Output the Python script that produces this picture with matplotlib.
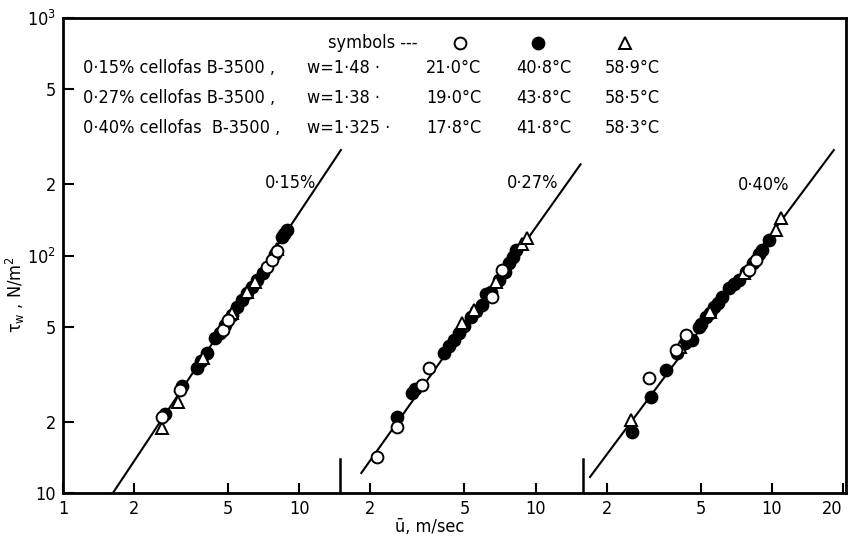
import matplotlib
matplotlib.use('Agg')
import matplotlib.pyplot as plt

W, H = 850, 542

plt.rcParams['font.family'] = ['DejaVu Sans']
plt.rcParams['font.stretch'] = 'condensed'
plt.rcParams['mathtext.default'] = 'regular'

# the three runs share one log axis; each run is shifted one decade right
offsets = [1, 10, 100]
breaks = [14.9, 159]       # tall marks separating the runs (shared axis units)
xticks_at = [1, 2, 5, 10, 20, 50, 100, 200, 500, 1000, 2000]
xtick_labels = ['1', '2', '5', '10', '2', '5', '10', '2', '5', '10', '20']
xtall_at = [10, 100, 1000]
yticks_at = [10, 20, 50, 100, 200, 500, 1000]
ytick_labels = ['10', '2', '5', r'$10^2$', '2', '5', r'$10^3$']

conc = ['0·15%', '0·27%', '0·40%']
w_exp = ['w=1·48 ·', 'w=1·38 ·', 'w=1·325 ·']
names = ['0·15% cellofas B-3500 ,', '0·27% cellofas B-3500 ,', '0·40% cellofas  B-3500 ,']
temps = [['21·0°C', '40·8°C', '58·9°C'],
         ['19·0°C', '43·8°C', '58·5°C'],
         ['17·8°C', '41·8°C', '58·3°C']]

# straight fits, end points (u m/s, tau N/m^2)
line_u = [[1.626, 15.0], [1.83, 15.5], [1.70, 18.3]]
line_tau = [[10.0, 278], [12.14, 242], [11.68, 278]]

# open circles (lowest temperature)
open_u = [[2.62, 3.12, 4.74, 4.98, 7.28, 7.64, 8.02],
          [2.14, 2.60, 3.32, 3.55, 6.56, 7.23],
          [3.02, 3.93, 4.33, 7.99, 8.55]]
open_t = [[20.9, 27.1, 48.6, 53.5, 89.5, 95.7, 104],
          [14.2, 19.0, 28.5, 33.6, 66.9, 86.9],
          [30.5, 40.0, 46.3, 86.9, 95.7]]
# filled circles (middle temperature)
fill_u = [[2.70, 3.20, 3.68, 3.85, 4.06, 4.39, 4.6, 4.85, 5.2, 5.43, 5.70, 5.99, 6.3, 6.6,
           7.0, 7.9, 8.42, 8.6, 8.84],
          [2.60, 3.01, 3.1, 4.11, 4.3, 4.5, 4.76, 5.0, 5.35, 5.6, 5.95, 6.18, 6.5, 7.02,
           7.4, 7.73, 8.0, 8.28],
          [2.56, 3.08, 3.56, 3.96, 4.3, 4.59, 4.91, 5.0, 5.26, 5.45, 5.69, 5.9, 6.14, 6.58,
           6.9, 7.25, 7.8, 8.3, 8.8, 9.06, 9.70]]
fill_t = [[21.6, 28.2, 33.6, 35.8, 38.9, 44.9, 47, 51, 56, 60.7, 65.0, 69.5, 74, 78.8,
           84, 101, 119.7, 123, 128],
          [20.9, 26.4, 27.5, 38.9, 41.5, 44, 47.2, 50.5, 55.1, 58.5, 61.9, 69, 70.5, 78.8,
           85, 93.0, 99, 105.5],
          [18.1, 25.4, 33.0, 38.9, 43, 44.1, 50.0, 51.5, 55.1, 57.5, 60.7, 63, 66.9, 73.0,
           76, 78.8, 85, 93, 101, 105.5, 116.3]]
# open triangles (highest temperature)
tri_u = [[2.62, 3.06, 3.9, 5.2, 6.5, 8.02, 6.0],
         [4.9, 5.5, 6.8, 8.77, 9.22],
         [2.54, 4.1, 5.5, 7.6, 10.38, 10.9]]
tri_t = [[18.8, 24.2, 37, 57, 77, 106, 70],
         [52, 59, 77, 112, 118.6],
         [20.3, 41, 58, 84, 128, 143.9]]


def fx(px):
    return px / W


def fy(py):
    return 1 - py / H


fig = plt.figure(figsize=(W / 100, H / 100), dpi=100)
ax = fig.add_axes([fx(63), fy(493), 783 / W, 475 / H])
ax.set_xscale('log')
ax.set_yscale('log')

mk = dict(linestyle='none', markersize=8.5, markeredgewidth=1.4, markeredgecolor='black')
for i, off in enumerate(offsets):
    ax.plot([u * off for u in line_u[i]], line_tau[i], color='black', lw=1.5)
    ax.plot([u * off for u in fill_u[i]], fill_t[i], marker='o', markerfacecolor='black', **mk)
    ax.plot([u * off for u in tri_u[i]], tri_t[i], marker='^', markerfacecolor='white', **mk)
    ax.plot([u * off for u in open_u[i]], open_t[i], marker='o', markerfacecolor='white', **mk)

for b in breaks:
    ax.axvline(b, ymin=0, ymax=34 / 475, color='black', lw=1.8)

ax.set_xlim(1, 2060)
ax.set_ylim(10, 1000)
ax.set_xticks(xticks_at, xtick_labels, fontsize=13)
ax.set_xticks(xtall_at, [''] * len(xtall_at), minor=True)
ax.set_yticks(yticks_at, ytick_labels, fontsize=13)
ax.set_yticks([], minor=True)
ax.get_xticklabels()[-1].set_horizontalalignment('right')
ax.tick_params(axis='x', which='major', direction='in', length=7, width=1.5, pad=5)
ax.tick_params(axis='x', which='minor', direction='in', length=14, width=1.5)
ax.tick_params(axis='y', which='major', direction='in', length=8, width=1.5, pad=5)
for s in ax.spines.values():
    s.set_linewidth(2)

ax.set_xlabel('ū, m/sec', fontsize=13, va='center')
ax.xaxis.set_label_coords((430 - 63) / 783, -(527 - 493) / 475)
ax.set_ylabel(r'$\tau_w$ , N/m$^2$', fontsize=13, va='center')
ax.yaxis.set_label_coords(-(63 - 15) / 783, (493 - 295) / 475)

# legend block
fig.text(fx(328), fy(43), 'symbols ---', fontsize=13, va='center', ha='left')
leg_x = [460, 538, 625]
leg_face = ['white', 'black', 'white']
leg_mark = ['o', 'o', '^']
for x, fc, m in zip(leg_x, leg_face, leg_mark):
    ax.plot([fx(x)], [fy(43)], marker=m, markerfacecolor=fc, transform=fig.transFigure,
            clip_on=False, **mk)

row_y = [68, 98, 128]
for r in range(3):
    fig.text(fx(83), fy(row_y[r]), names[r], fontsize=13, va='center', ha='left')
    fig.text(fx(307), fy(row_y[r]), w_exp[r], fontsize=13, va='center', ha='left')
    for x, t in zip([426, 516, 605], temps[r]):
        fig.text(fx(x), fy(row_y[r]), t, fontsize=13, va='center', ha='left')

for x, y, c in zip([265, 507, 738], [183, 183, 185], conc):
    fig.text(fx(x), fy(y), c, fontsize=13, va='center', ha='left')

fig.savefig('out.png', dpi=100)
